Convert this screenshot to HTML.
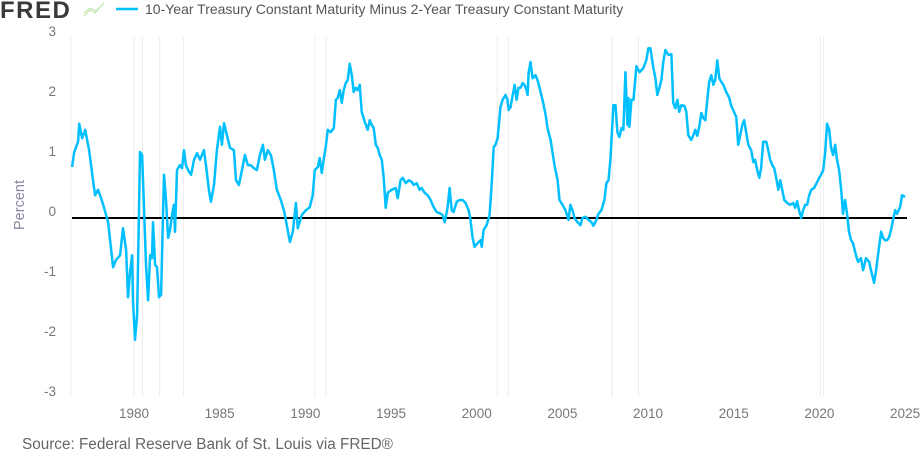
<!DOCTYPE html>
<html><head><meta charset="utf-8"><style>
body{margin:0;background:#fff;width:924px;height:455px;overflow:hidden;font-family:"Liberation Sans",sans-serif}
</style></head><body>
<svg id="chart" width="924" height="455" viewBox="0 0 924 455" xmlns="http://www.w3.org/2000/svg">
<text x="0" y="18" font-size="24" font-weight="bold" fill="#3a3a3a" font-family="Liberation Sans, sans-serif" letter-spacing="1.5">FRED</text>
<path d="M84 16 L90 10 L95 13 L102 5 M84 13 L90 8 L96 11 L104 3" stroke="#b6e3a0" stroke-width="1" fill="none"/>
<line x1="116" y1="9" x2="138" y2="9" stroke="#00bfff" stroke-width="2.5"/>
<text x="145" y="14" font-size="14" fill="#555">10-Year Treasury Constant Maturity Minus 2-Year Treasury Constant Maturity</text>
<text transform="translate(24,205) rotate(-90)" text-anchor="middle" font-size="14.5" fill="#8a86a0">Percent</text>
<g id="grid"></g><g id="yticks"></g><g id="xticks"></g>
<line id="zero" stroke="#000" stroke-width="2"/>
<path id="series" fill="none" stroke="#00bfff" stroke-width="2.5" stroke-linejoin="round"/>
<text x="22" y="449" font-size="15.3" fill="#666">Source: Federal Reserve Bank of St. Louis via FRED®</text>
</svg>
<script>
const yTicks=[3,2,1,0,-1,-2,-3];
const xTicks=[1980,1985,1990,1995,2000,2005,2010,2015,2020,2025];
const recessionEdges=[1980.0,1980.5,1981.5,1982.9,1990.55,1991.2,2001.2,2001.85,2007.9,2009.45,2020.05,2020.25];
const years=[1976.39,1976.51,1976.74,1976.80,1976.97,1977.15,1977.38,1977.61,1977.73,1977.90,1978.08,1978.20,1978.49,1978.78,1978.95,1979.19,1979.36,1979.54,1979.65,1979.77,1979.89,1979.94,1980.06,1980.18,1980.29,1980.35,1980.47,1980.59,1980.70,1980.82,1980.94,1981.05,1981.11,1981.23,1981.34,1981.46,1981.58,1981.69,1981.75,1981.87,1981.99,1982.10,1982.22,1982.33,1982.39,1982.51,1982.68,1982.80,1982.92,1983.03,1983.21,1983.33,1983.50,1983.68,1983.85,1984.08,1984.20,1984.37,1984.49,1984.67,1984.84,1985.02,1985.13,1985.25,1985.42,1985.60,1985.83,1985.95,1986.12,1986.30,1986.47,1986.65,1986.82,1987.00,1987.17,1987.35,1987.52,1987.64,1987.81,1987.99,1988.16,1988.34,1988.57,1988.75,1988.92,1989.10,1989.27,1989.45,1989.56,1989.79,1990.03,1990.26,1990.43,1990.55,1990.73,1990.84,1990.96,1991.08,1991.19,1991.31,1991.48,1991.66,1991.78,1991.89,1992.01,1992.13,1992.24,1992.36,1992.48,1992.59,1992.71,1992.82,1992.94,1993.06,1993.17,1993.29,1993.47,1993.64,1993.76,1993.87,1993.99,1994.11,1994.22,1994.34,1994.46,1994.57,1994.69,1994.81,1995.04,1995.27,1995.39,1995.56,1995.68,1995.86,1996.03,1996.21,1996.32,1996.50,1996.67,1996.79,1996.96,1997.14,1997.31,1997.49,1997.66,1997.84,1998.01,1998.13,1998.30,1998.42,1998.54,1998.65,1998.83,1999.00,1999.18,1999.35,1999.53,1999.64,1999.76,1999.88,2000.05,2000.23,2000.29,2000.40,2000.58,2000.75,2000.87,2000.99,2001.10,2001.22,2001.39,2001.51,2001.68,2001.80,2001.86,2001.98,2002.09,2002.21,2002.33,2002.44,2002.56,2002.68,2002.79,2002.91,2002.97,2003.03,2003.14,2003.26,2003.43,2003.55,2003.67,2003.84,2004.02,2004.13,2004.31,2004.54,2004.72,2004.83,2005.01,2005.18,2005.36,2005.47,2005.59,2005.71,2005.88,2006.06,2006.17,2006.35,2006.52,2006.70,2006.81,2006.99,2007.10,2007.28,2007.45,2007.57,2007.69,2007.80,2007.98,2008.10,2008.21,2008.33,2008.45,2008.56,2008.68,2008.80,2008.86,2008.91,2009.03,2009.15,2009.32,2009.50,2009.73,2009.90,2010.02,2010.14,2010.31,2010.43,2010.54,2010.66,2010.78,2010.89,2011.01,2011.18,2011.36,2011.47,2011.59,2011.71,2011.82,2011.94,2012.12,2012.23,2012.35,2012.52,2012.64,2012.76,2012.87,2012.99,2013.11,2013.22,2013.34,2013.46,2013.57,2013.69,2013.81,2013.92,2014.04,2014.16,2014.27,2014.39,2014.56,2014.74,2014.85,2014.97,2015.15,2015.26,2015.38,2015.50,2015.61,2015.73,2015.85,2016.02,2016.14,2016.25,2016.37,2016.49,2016.60,2016.72,2016.90,2017.01,2017.13,2017.25,2017.36,2017.48,2017.60,2017.71,2017.83,2017.95,2018.12,2018.30,2018.47,2018.59,2018.70,2018.82,2018.94,2019.05,2019.17,2019.29,2019.40,2019.52,2019.69,2019.87,2019.99,2020.10,2020.22,2020.33,2020.45,2020.57,2020.68,2020.80,2020.92,2021.03,2021.15,2021.27,2021.38,2021.50,2021.62,2021.73,2021.85,2021.96,2022.14,2022.26,2022.43,2022.55,2022.72,2022.90,2023.01,2023.19,2023.31,2023.42,2023.60,2023.72,2023.83,2023.95,2024.07,2024.18,2024.30,2024.42,2024.53,2024.71,2024.82,2025.00];
const spread=[0.85,1.10,1.27,1.57,1.33,1.47,1.13,0.63,0.38,0.47,0.33,0.22,-0.07,-0.82,-0.70,-0.62,-0.17,-0.53,-1.32,-0.90,-0.62,-1.37,-2.03,-1.62,0.13,1.10,1.05,0.13,-0.78,-1.37,-0.62,-0.67,-0.07,-0.78,-0.82,-1.32,-1.28,0.05,0.72,0.30,-0.33,-0.20,0.05,0.22,-0.23,0.80,0.88,0.83,1.13,0.88,0.77,0.72,0.97,1.08,0.97,1.13,0.88,0.47,0.27,0.55,1.13,1.52,1.22,1.58,1.38,1.17,1.13,0.63,0.55,0.80,1.05,0.88,0.88,0.83,0.80,1.05,1.22,0.97,1.13,1.05,0.80,0.47,0.30,0.13,-0.12,-0.40,-0.23,0.25,-0.17,0.05,0.13,0.18,0.38,0.80,0.85,1.00,0.75,1.00,1.18,1.47,1.43,1.50,1.97,2.00,2.13,1.92,2.13,2.25,2.30,2.57,2.38,2.10,2.17,2.13,2.22,1.77,1.60,1.47,1.63,1.55,1.50,1.22,1.17,1.05,0.97,0.67,0.17,0.42,0.47,0.50,0.33,0.63,0.67,0.58,0.63,0.60,0.55,0.58,0.47,0.50,0.42,0.38,0.30,0.18,0.10,0.08,0.05,-0.07,0.17,0.50,0.13,0.10,0.27,0.30,0.30,0.25,0.13,-0.03,-0.33,-0.48,-0.42,-0.37,-0.48,-0.20,-0.12,0.05,0.55,1.18,1.22,1.33,1.85,1.97,2.05,1.97,1.80,1.85,2.03,2.22,1.97,2.17,2.17,2.25,2.22,2.13,2.05,2.42,2.60,2.33,2.38,2.30,2.17,1.97,1.72,1.50,1.30,0.88,0.63,0.30,0.22,0.13,-0.03,0.22,0.13,0.00,-0.07,-0.12,0.00,0.02,-0.03,-0.07,-0.13,-0.03,0.07,0.13,0.30,0.58,0.63,0.97,1.88,1.88,1.43,1.35,1.50,1.47,2.43,1.55,2.00,1.52,1.97,1.97,2.53,2.43,2.50,2.63,2.83,2.83,2.50,2.33,2.05,2.17,2.30,2.60,2.80,2.72,2.73,1.92,1.83,1.97,1.77,1.88,1.87,1.77,1.38,1.30,1.38,1.47,1.37,1.52,1.75,1.67,1.63,1.97,2.27,2.38,2.22,2.30,2.63,2.33,2.27,2.22,2.10,2.00,1.87,1.80,1.68,1.22,1.38,1.55,1.63,1.42,1.22,1.13,0.93,0.97,0.80,0.67,0.83,1.27,1.27,1.13,0.97,0.88,0.83,0.67,0.47,0.63,0.47,0.30,0.25,0.22,0.25,0.17,0.28,0.12,0.00,0.13,0.22,0.22,0.37,0.47,0.50,0.60,0.67,0.72,0.80,1.08,1.57,1.47,1.17,1.05,1.22,0.97,0.80,0.47,0.07,0.30,0.05,-0.23,-0.37,-0.42,-0.63,-0.73,-0.67,-0.87,-0.67,-0.73,-0.87,-1.08,-0.87,-0.62,-0.23,-0.33,-0.37,-0.37,-0.32,-0.20,-0.03,0.13,0.07,0.18,0.38,0.35];

const NS='http://www.w3.org/2000/svg';
const X0=72,X1=907,Y0=37,Y1=397;
function xScale(yr){return 134+(yr-1980)*17.135;}
function yScale(v){return 218-v*60;}
const grid=document.getElementById('grid');
recessionEdges.forEach(r=>{
  const l=document.createElementNS(NS,'line');
  
  
  const x=xScale(r);
  l.setAttribute('x1',x);l.setAttribute('x2',x);l.setAttribute('y1',Y0);l.setAttribute('y2',Y1);
  l.setAttribute('stroke','#ececec');l.setAttribute('stroke-width','1');
  grid.appendChild(l);
});
const le=document.createElementNS(NS,'line');


le.setAttribute('x1',X0-1);le.setAttribute('x2',X0-1);le.setAttribute('y1',Y0);le.setAttribute('y2',Y1);
le.setAttribute('stroke','#ececec');
grid.appendChild(le);
const yt=document.getElementById('yticks');
yTicks.forEach(v=>{
  const t=document.createElementNS(NS,'text');
  
  
  t.setAttribute('x',56);t.setAttribute('y',yScale(v)-2);
  t.setAttribute('text-anchor','end');t.setAttribute('font-size','13.5');t.setAttribute('fill','#777');
  t.textContent=v;yt.appendChild(t);
});
const xt=document.getElementById('xticks');
xTicks.forEach(v=>{
  const t=document.createElementNS(NS,'text');
  
  
  t.setAttribute('x',xScale(v));t.setAttribute('y',418);
  t.setAttribute('text-anchor','middle');t.setAttribute('font-size','13.5');t.setAttribute('fill','#777');
  t.textContent=v;xt.appendChild(t);
});
const z=document.getElementById('zero');
z.setAttribute('x1',X0);z.setAttribute('x2',X1);z.setAttribute('y1',yScale(0));z.setAttribute('y2',yScale(0));
let d='';
years.forEach((yr,i)=>{d+=(i?'L':'M')+xScale(yr).toFixed(1)+' '+yScale(spread[i]).toFixed(1)+' ';});
document.getElementById('series').setAttribute('d',d);
</script>
</body></html>
